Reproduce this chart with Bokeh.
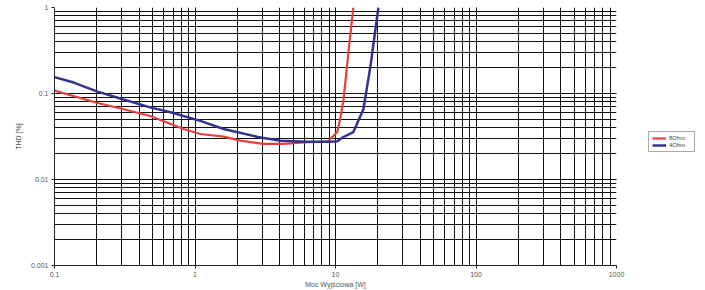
from bokeh.plotting import figure
from bokeh.models import FixedTicker, Legend, LegendItem
from bokeh.layouts import row
from bokeh.embed import file_html
from bokeh.resources import INLINE

# Data
red_x = [0.1, 0.2, 0.31, 0.48, 0.83, 1.09, 1.6, 2.1, 3.07, 4.26, 6.3, 8.8, 9.7, 10.3, 10.9, 11.4, 12.4, 13.4]
red_y = [0.108, 0.078, 0.0655, 0.0548, 0.0386, 0.0338, 0.0315, 0.0283, 0.0259, 0.0259, 0.0271, 0.0275, 0.0323, 0.0356, 0.0548, 0.085, 0.32, 1.0]
blue_x = [0.1, 0.137, 0.2, 0.31, 0.48, 0.67, 1.09, 1.6, 2.8, 4.06, 6.3, 9.2, 10.3, 11.4, 13.4, 15.8, 17.7, 20.2]
blue_y = [0.155, 0.134, 0.106, 0.0853, 0.069, 0.0605, 0.048, 0.0386, 0.0312, 0.0283, 0.0275, 0.0275, 0.0278, 0.0312, 0.0356, 0.0655, 0.204, 1.0]
series_names = ["8Ohm", "4Ohm"]
series_colors = ["#e5403a", "#33338f"]

x_ticks = [0.1, 1, 10, 100, 1000]
x_labels = ["0.1", "1", "10", "100", "1000"]
y_ticks = [0.001, 0.01, 0.1, 1]
y_labels = ["0.001", "0.01", "0.1", "1"]

x_minor = [d * m for d in [0.1, 1, 10, 100] for m in range(1, 11)]
y_minor = [d * m for d in [0.001, 0.01, 0.1] for m in range(1, 11)]

p = figure(width=630, height=290, x_axis_type="log", y_axis_type="log",
           x_range=(0.1, 1000), y_range=(0.001, 1),
           output_backend="svg", toolbar_location=None,
           min_border_left=54, min_border_right=14, min_border_top=7, min_border_bottom=22)
p.outline_line_color = None
p.background_fill_color = "white"
p.border_fill_color = "white"

p.xaxis.ticker = FixedTicker(ticks=x_ticks, minor_ticks=x_minor)
p.yaxis.ticker = FixedTicker(ticks=y_ticks, minor_ticks=y_minor)
p.xaxis.major_label_overrides = {t: l for t, l in zip(x_ticks, x_labels)}
p.yaxis.major_label_overrides = {t: l for t, l in zip(y_ticks, y_labels)}

for ax in (p.xaxis, p.yaxis):
    ax.axis_line_color = "#222222"
    ax.major_tick_line_color = "#222222"
    ax.minor_tick_line_color = None
    ax.major_tick_out = 3
    ax.major_tick_in = 0
    ax.major_label_text_font = "Liberation Sans"
    ax.major_label_text_font_size = "7px"
    ax.major_label_text_color = "#555555"
    ax.axis_label_text_font = "Liberation Sans"
    ax.axis_label_text_font_size = "7px"
    ax.axis_label_text_font_style = "normal"
    ax.axis_label_text_color = "#555555"
    ax.major_label_standoff = 2
    ax.axis_label_standoff = 1

p.xaxis.axis_label = "Moc Wyjściowa [W]"
p.yaxis.axis_label = "THD [%]"
p.yaxis.axis_label_standoff = 6

for g in (p.xgrid, p.ygrid):
    g.grid_line_color = "#111111"
    g.grid_line_width = 1
    g.minor_grid_line_color = "#111111"
    g.minor_grid_line_width = 1

p.line(red_x, red_y, line_color=series_colors[0], line_width=2.2)
p.line(blue_x, blue_y, line_color=series_colors[1], line_width=2.5)

# Legend panel on the right (legend-only renderers lie outside its visible range)
lf = figure(width=75, height=290, x_range=(0, 1), y_range=(0, 1),
            output_backend="svg", toolbar_location=None,
            x_axis_location=None, y_axis_location=None,
            min_border_left=0, min_border_right=0, min_border_top=0, min_border_bottom=0)
lf.outline_line_color = None
lf.xgrid.visible = False
lf.ygrid.visible = False
l1 = lf.line([5, 6], [5, 6], line_color=series_colors[0], line_width=2.2)
l2 = lf.line([5, 6], [5, 6], line_color=series_colors[1], line_width=2.5)

legend = Legend(items=[LegendItem(label=series_names[0], renderers=[l1]),
                       LegendItem(label=series_names[1], renderers=[l2])],
                location=(18, 113), orientation="vertical")
legend.label_text_font = "Liberation Sans"
legend.label_text_font_size = "6px"
legend.label_text_color = "#444444"
legend.glyph_width = 14
legend.glyph_height = 6
legend.label_height = 6
legend.label_width = 22
legend.label_standoff = 3
legend.spacing = 1
legend.padding = 3
legend.margin = 0
legend.border_line_color = "#555555"
legend.border_line_width = 1
legend.background_fill_alpha = 1.0
lf.add_layout(legend, "center")

layout = row(p, lf, spacing=0)
open("out.html", "w").write(file_html(layout, INLINE))
